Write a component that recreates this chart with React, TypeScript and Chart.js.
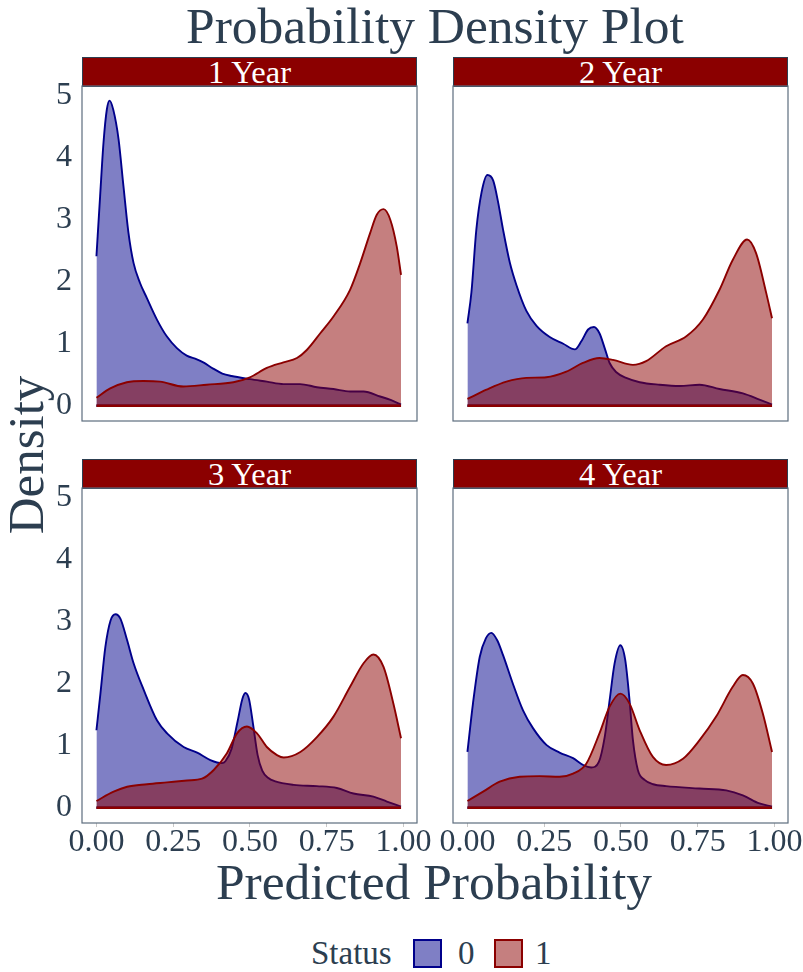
import React, { useEffect, useRef } from "react";
import { Chart, registerables } from "chart.js";

Chart.register(...registerables);

const FONT = '"Liberation Serif", "Times New Roman", Times, serif';
const TEXT_COLOR = "#2c3e50";
const PANEL_BORDER = "#5d6d7e";
const STRIP_FILL = "#8b0000";
const STRIP_BORDER = "#2c3e50";
const LINE0 = "#00008b";
const LINE1 = "#8b0000";
const FILL0 = "rgba(0, 0, 139, 0.5)";
const FILL1 = "rgba(139, 0, 0, 0.5)";

const chartTitle = "Probability Density Plot";
const xAxisTitle = "Predicted Probability";
const yAxisTitle = "Density";
const legendTitle = "Status";
const statusLevels = ["0", "1"];
const panelLabels = ["1 Year", "2 Year", "3 Year", "4 Year"];
const xTicks = [0, 0.25, 0.5, 0.75, 1];
const yTicks = [0, 1, 2, 3, 4, 5];
const xRange = [-0.047, 1.044];
const yRange = [-0.245, 5.155];

// ---- 1 Year ----
const year1Status0X = [0, 0.012, 0.023, 0.034, 0.043, 0.055, 0.072, 0.088, 0.104, 0.121, 0.142, 0.164, 0.197, 0.229, 0.262, 0.294, 0.327, 0.348, 0.38, 0.41, 0.44, 0.5, 0.555, 0.609, 0.663, 0.718, 0.772, 0.826, 0.87, 0.924, 0.96, 0.992];
const year1Status0Y = [2.41, 3.38, 4.24, 4.78, 4.92, 4.77, 4.3, 3.54, 2.8, 2.3, 1.98, 1.74, 1.39, 1.12, 0.93, 0.81, 0.75, 0.7, 0.6, 0.52, 0.48, 0.43, 0.39, 0.35, 0.35, 0.3, 0.27, 0.23, 0.23, 0.15, 0.09, 0.02];
const year1Status1X = [0, 0.045, 0.099, 0.153, 0.207, 0.283, 0.359, 0.446, 0.5, 0.555, 0.609, 0.653, 0.685, 0.729, 0.772, 0.826, 0.859, 0.891, 0.913, 0.935, 0.957, 0.978, 0.992];
const year1Status1Y = [0.13, 0.28, 0.38, 0.4, 0.39, 0.31, 0.34, 0.38, 0.46, 0.61, 0.7, 0.77, 0.9, 1.17, 1.44, 1.87, 2.3, 2.78, 3.08, 3.17, 3.0, 2.57, 2.11];

// ---- 2 Year ----
const year2Status0X = [0, 0.013, 0.029, 0.046, 0.065, 0.084, 0.1, 0.116, 0.138, 0.16, 0.192, 0.225, 0.268, 0.312, 0.35, 0.371, 0.393, 0.412, 0.43, 0.447, 0.463, 0.485, 0.517, 0.561, 0.626, 0.691, 0.756, 0.821, 0.897, 0.951, 0.992];
const year2Status0Y = [1.33, 1.83, 2.84, 3.44, 3.72, 3.63, 3.28, 2.84, 2.31, 1.94, 1.53, 1.29, 1.11, 1.0, 0.91, 1.04, 1.23, 1.27, 1.17, 0.93, 0.69, 0.54, 0.45, 0.38, 0.34, 0.32, 0.34, 0.27, 0.2, 0.1, 0.02];
const year2Status1X = [0, 0.062, 0.127, 0.192, 0.257, 0.322, 0.376, 0.43, 0.474, 0.539, 0.582, 0.647, 0.713, 0.767, 0.821, 0.864, 0.911, 0.94, 0.973, 0.992];
const year2Status1Y = [0.11, 0.26, 0.39, 0.45, 0.46, 0.55, 0.69, 0.77, 0.74, 0.66, 0.72, 0.96, 1.12, 1.39, 1.87, 2.35, 2.68, 2.46, 1.82, 1.41];

// ---- 3 Year ----
const year3Status0X = [0, 0.013, 0.029, 0.046, 0.062, 0.078, 0.1, 0.121, 0.154, 0.197, 0.23, 0.284, 0.328, 0.371, 0.409, 0.42, 0.44, 0.46, 0.475, 0.485, 0.497, 0.51, 0.525, 0.54, 0.56, 0.58, 0.642, 0.718, 0.783, 0.837, 0.902, 0.946, 0.992];
const year3Status0Y = [1.25, 1.84, 2.59, 3.02, 3.12, 3.05, 2.7, 2.33, 1.9, 1.41, 1.2, 0.98, 0.89, 0.77, 0.72, 0.75, 0.95, 1.4, 1.75, 1.85, 1.75, 1.35, 0.85, 0.6, 0.48, 0.43, 0.37, 0.35, 0.32, 0.23, 0.18, 0.1, 0.02];
const year3Status1X = [0, 0.056, 0.1, 0.165, 0.23, 0.295, 0.344, 0.382, 0.425, 0.458, 0.49, 0.523, 0.555, 0.588, 0.61, 0.664, 0.718, 0.772, 0.826, 0.87, 0.902, 0.935, 0.967, 0.992];
const year3Status1Y = [0.11, 0.26, 0.34, 0.38, 0.41, 0.44, 0.47, 0.61, 0.88, 1.2, 1.31, 1.2, 0.98, 0.85, 0.81, 0.9, 1.14, 1.47, 1.95, 2.33, 2.47, 2.27, 1.68, 1.12];

// ---- 4 Year ----
const year4Status0X = [0, 0.018, 0.04, 0.06, 0.078, 0.097, 0.116, 0.148, 0.181, 0.214, 0.258, 0.3, 0.344, 0.377, 0.403, 0.428, 0.447, 0.463, 0.479, 0.498, 0.514, 0.528, 0.539, 0.555, 0.577, 0.605, 0.647, 0.756, 0.843, 0.897, 0.951, 0.992];
const year4Status0Y = [0.9, 1.68, 2.43, 2.73, 2.82, 2.7, 2.46, 2.0, 1.57, 1.28, 1.01, 0.89, 0.8, 0.69, 0.65, 0.74, 1.14, 1.73, 2.32, 2.62, 2.38, 1.73, 1.09, 0.61, 0.45, 0.38, 0.35, 0.31, 0.28, 0.2, 0.07, 0.02];
const year4Status1X = [0, 0.051, 0.105, 0.17, 0.235, 0.3, 0.344, 0.387, 0.43, 0.463, 0.498, 0.528, 0.561, 0.604, 0.647, 0.702, 0.756, 0.81, 0.864, 0.897, 0.93, 0.962, 0.992];
const year4Status1Y = [0.11, 0.26, 0.42, 0.5, 0.51, 0.5, 0.55, 0.71, 1.2, 1.63, 1.84, 1.68, 1.25, 0.82, 0.69, 0.79, 1.09, 1.47, 1.95, 2.14, 2.0, 1.52, 0.9];

const panelSeries = [
  [year1Status0X, year1Status0Y, year1Status1X, year1Status1Y],
  [year2Status0X, year2Status0Y, year2Status1X, year2Status1Y],
  [year3Status0X, year3Status0Y, year3Status1X, year3Status1Y],
  [year4Status0X, year4Status0Y, year4Status1X, year4Status1Y],
];

// layout (pixels)
const PANEL_LEFT = [82, 453];
const PANEL_TOP = [86, 488];
const BOX_W = 335;
const BOX_H = 335;
const STRIP_H = 30;
const Y_AXIS_W = 40;
const X_AXIS_H = 50;
const PAD_L = 60;
const PAD_R = 40;
const PAD_T = 10;
const PAD_B = 60;
const TICK_FONT = 32;

const zip = (xs: number[], ys: number[]) => xs.map((x, i) => ({ x, y: ys[i] }));

const boxPlugin = {
  id: "panelBox",
  afterDraw(chart: any) {
    const { ctx, chartArea: a } = chart;
    ctx.save();
    ctx.strokeStyle = PANEL_BORDER;
    ctx.lineWidth = 1.2;
    ctx.strokeRect(a.left, a.top, a.right - a.left, a.bottom - a.top);
    ctx.restore();
  },
};

const zeroPad = (s: any) => {
  s.paddingLeft = 0;
  s.paddingRight = 0;
  s.paddingTop = 0;
  s.paddingBottom = 0;
};

function Panel({ idx }: { idx: number }) {
  const ref = useRef<HTMLCanvasElement>(null);
  const col = idx % 2;
  const row = Math.floor(idx / 2);
  const showY = col === 0;
  const showX = row === 1;
  const cw = BOX_W + PAD_L + PAD_R;
  const ch = BOX_H + PAD_T + PAD_B;

  useEffect(() => {
    const [x0, y0, x1, y1] = panelSeries[idx];
    const common = { pointRadius: 0, borderWidth: 1.9, cubicInterpolationMode: "monotone" };
    const base = { pointRadius: 0, borderWidth: 2.4, fill: false };
    const chart = new Chart(ref.current as HTMLCanvasElement, {
      type: "line",
      data: {
        datasets: [
          { ...base, label: statusLevels[1] + " base", data: [{ x: x1[0], y: 0 }, { x: x1[x1.length - 1], y: 0 }], borderColor: LINE1, order: 0 },
          { ...common, label: statusLevels[1], data: zip(x1, y1), borderColor: LINE1, backgroundColor: FILL1, fill: "origin", order: 1 },
          { ...base, label: statusLevels[0] + " base", data: [{ x: x0[0], y: 0 }, { x: x0[x0.length - 1], y: 0 }], borderColor: LINE0, order: 2 },
          { ...common, label: statusLevels[0], data: zip(x0, y0), borderColor: LINE0, backgroundColor: FILL0, fill: "origin", order: 3 },
        ] as any,
      },
      options: {
        responsive: false,
        animation: false,
        devicePixelRatio: 1,
        layout: {
          padding: {
            left: PAD_L - (showY ? Y_AXIS_W : 0),
            right: PAD_R,
            top: PAD_T,
            bottom: PAD_B - (showX ? X_AXIS_H : 0),
          },
        },
        plugins: { legend: { display: false }, tooltip: { enabled: false }, title: { display: false } },
        scales: {
          x: {
            type: "linear",
            min: xRange[0],
            max: xRange[1],
            display: showX,
            grid: { display: true, drawOnChartArea: false, drawTicks: true, tickLength: 4, color: "#c8c8c8", lineWidth: 1 },
            border: { display: false },
            ticks: {
              font: { family: FONT, size: TICK_FONT },
              color: TEXT_COLOR,
              padding: -4,
              maxRotation: 0,
              minRotation: 0,
              autoSkip: false,
              callback: (v: any) => Number(v).toFixed(2),
            },
            afterBuildTicks: (s: any) => {
              s.ticks = xTicks.map((v) => ({ value: v }));
            },
            afterFit: (s: any) => {
              if (showX) s.height = X_AXIS_H;
              zeroPad(s);
            },
          },
          y: {
            type: "linear",
            min: yRange[0],
            max: yRange[1],
            display: showY,
            grid: { display: false, drawTicks: false },
            border: { display: false },
            ticks: {
              font: { family: FONT, size: TICK_FONT },
              color: TEXT_COLOR,
              padding: 10,
              autoSkip: false,
              callback: (v: any) => String(v),
            },
            afterBuildTicks: (s: any) => {
              s.ticks = yTicks.map((v) => ({ value: v }));
            },
            afterFit: (s: any) => {
              if (showY) s.width = Y_AXIS_W;
              zeroPad(s);
            },
          },
        },
      } as any,
      plugins: [boxPlugin],
    });
    return () => chart.destroy();
  }, [idx]);

  const boxL = PANEL_LEFT[col];
  const boxT = PANEL_TOP[row];
  return (
    <>
      <div
        style={{
          position: "absolute",
          left: boxL,
          top: boxT - STRIP_H + 1,
          width: BOX_W,
          height: STRIP_H,
          boxSizing: "border-box",
          background: STRIP_FILL,
          border: `1px solid ${STRIP_BORDER}`,
          color: "#ffffff",
          fontFamily: FONT,
          fontSize: 32.5,
          lineHeight: `${STRIP_H - 2}px`,
          textAlign: "center",
          overflow: "hidden",
          whiteSpace: "nowrap",
        }}
      >
        {panelLabels[idx]}
      </div>
      <canvas
        ref={ref}
        width={cw}
        height={ch}
        style={{ position: "absolute", left: boxL - PAD_L, top: boxT - PAD_T, width: cw, height: ch }}
      />
    </>
  );
}

export default function App() {
  return (
    <div style={{ position: "absolute", left: 0, top: 0, width: 803, height: 972, background: "#ffffff", overflow: "hidden", fontFamily: FONT, color: TEXT_COLOR }}>
      <div style={{ position: "absolute", left: 0, top: 1, width: 870, textAlign: "center", fontSize: 51.5, lineHeight: "50px", whiteSpace: "nowrap" }}>
        {chartTitle}
      </div>
      {[0, 1, 2, 3].map((i) => (
        <Panel key={i} idx={i} />
      ))}
      <div
        style={{
          position: "absolute",
          left: 26 - 150,
          top: 455 - 25,
          width: 300,
          height: 50,
          lineHeight: "50px",
          fontSize: 51,
          textAlign: "center",
          transform: "rotate(-90deg)",
          whiteSpace: "nowrap",
        }}
      >
        {yAxisTitle}
      </div>
      <div style={{ position: "absolute", left: 0, top: 857, width: 868, textAlign: "center", fontSize: 51.5, lineHeight: "50px", whiteSpace: "nowrap" }}>
        {xAxisTitle}
      </div>
      <div style={{ position: "absolute", left: 311, top: 937, fontSize: 33, lineHeight: "33px", whiteSpace: "nowrap" }}>{legendTitle}</div>
      <div style={{ position: "absolute", left: 413, top: 939, width: 29, height: 29, boxSizing: "border-box", border: `2px solid ${LINE0}`, background: FILL0 }} />
      <div style={{ position: "absolute", left: 458, top: 937, fontSize: 33, lineHeight: "33px" }}>{statusLevels[0]}</div>
      <div style={{ position: "absolute", left: 494, top: 939, width: 29, height: 29, boxSizing: "border-box", border: `2px solid ${LINE1}`, background: FILL1 }} />
      <div style={{ position: "absolute", left: 535, top: 937, fontSize: 33, lineHeight: "33px" }}>{statusLevels[1]}</div>
    </div>
  );
}
